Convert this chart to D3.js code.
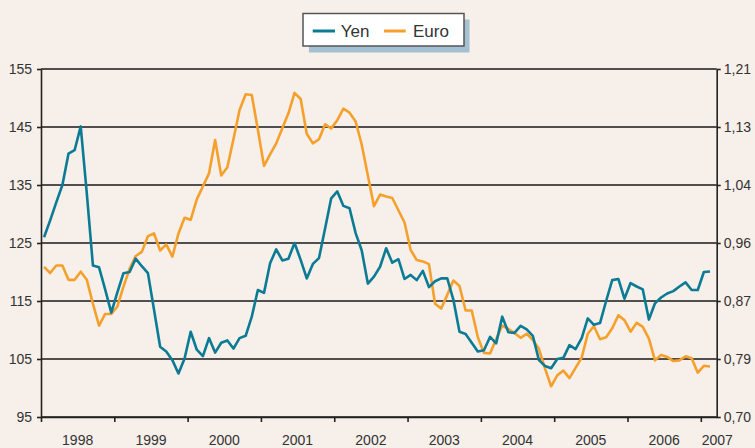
<!DOCTYPE html>
<html><head><meta charset="utf-8">
<script src="https://cdn.jsdelivr.net/npm/d3@7"></script>
<style>
html,body{margin:0;padding:0;background:#f7efe9;}
svg{display:block;font-family:"Liberation Sans",Arial,sans-serif;}
</style></head><body>
<svg id="chart" width="755" height="448"></svg>
<script>
// Monthly values, Jan 1998 onward
const yen = [126.0,128.9,132.0,135.0,140.4,141.0,145.1,133.5,121.1,120.8,117.0,113.0,
116.5,119.8,120.0,122.3,121.0,119.8,113.5,107.1,106.3,104.8,102.5,105.1,
109.7,106.6,105.5,108.6,106.1,107.8,108.2,106.8,108.6,109.0,112.3,116.9,
116.4,121.5,123.9,122.0,122.3,125.0,122.1,118.9,121.4,122.4,127.5,132.7,
133.9,131.4,131.0,126.7,123.7,118.0,119.2,120.9,124.1,121.6,122.2,118.8,
119.5,118.6,120.2,117.4,118.4,118.9,118.9,115.2,109.7,109.3,107.8,106.3,
106.5,108.8,107.7,112.3,109.6,109.5,110.7,110.1,109.0,104.8,103.8,103.4,
105.0,105.2,107.4,106.7,108.6,112.0,110.9,111.2,115.0,118.6,118.8,115.4,
118.1,117.5,117.0,111.8,114.6,115.6,116.3,116.7,117.5,118.2,116.9,116.9,
120.0,120.1];
const euro = [0.920,0.911,0.922,0.922,0.901,0.901,0.913,0.901,0.866,0.834,0.851,0.851,
0.862,0.891,0.917,0.936,0.942,0.965,0.969,0.944,0.953,0.935,0.969,0.992,
0.989,1.019,1.038,1.057,1.106,1.054,1.066,1.107,1.150,1.173,1.172,1.121,
1.068,1.085,1.101,1.123,1.145,1.175,1.166,1.115,1.101,1.107,1.129,1.123,
1.135,1.152,1.146,1.133,1.099,1.054,1.009,1.026,1.023,1.021,1.003,0.985,
0.945,0.930,0.928,0.924,0.866,0.859,0.879,0.900,0.892,0.856,0.856,0.817,
0.794,0.793,0.814,0.834,0.829,0.823,0.816,0.822,0.813,0.800,0.771,0.745,
0.761,0.768,0.757,0.772,0.787,0.822,0.833,0.814,0.817,0.830,0.849,0.842,
0.825,0.838,0.832,0.815,0.783,0.791,0.788,0.782,0.783,0.789,0.786,0.765,
0.775,0.774];
const years = ["1998","1999","2000","2001","2002","2003","2004","2005","2006","2007"];
const leftTicks = [95,105,115,125,135,145,155];
const rightTickLabels = ["0,70","0,79","0,87","0,96","1,04","1,13","1,21"];
const seriesNames = ["Yen","Euro"];
const colors = {Yen:"#0b7b95", Euro:"#f6a02c"};

const m = {left:41, right:716.7, top:69, bottom:417};
const svg = d3.select("#chart");
svg.append("rect").attr("width",755).attr("height",448).attr("fill","#f7efe9");

const x = d3.scaleLinear().domain([-0.5, 110.1]).range([m.left, m.right]);
const yL = d3.scaleLinear().domain([95,155]).range([m.bottom, m.top]);
const yR = d3.scaleLinear().domain([0.70,1.21]).range([m.bottom, m.top]);

// gridlines
svg.append("g").selectAll("line").data(leftTicks).join("line")
  .attr("x1", m.left).attr("x2", m.right)
  .attr("y1", d=>yL(d)).attr("y2", d=>yL(d))
  .attr("stroke", "#1a1a1a").attr("stroke-width", 1.4);

// axes
const axL = svg.append("g").attr("transform",`translate(${m.left},0)`)
  .call(d3.axisLeft(yL).tickValues(leftTicks).tickSize(4).tickSizeOuter(0).tickPadding(5));
const axR = svg.append("g").attr("transform",`translate(${m.right},0)`)
  .call(d3.axisRight(yR).tickValues(leftTicks.map(t=>yR.invert(yL(t))))
    .tickFormat((d,i)=>rightTickLabels[i]).tickSize(4).tickSizeOuter(0).tickPadding(3));
const axB = svg.append("g").attr("transform",`translate(0,${m.bottom})`)
  .call(d3.axisBottom(x).tickValues(years.map((y,i)=>12*i-0.5)).tickFormat("").tickSize(5).tickSizeOuter(0));
[axL,axR,axB].forEach(g=>{
  g.select(".domain").attr("stroke","#222").attr("stroke-width",1.6);
  g.selectAll(".tick line").attr("stroke","#222").attr("stroke-width",1.6);
  g.selectAll(".tick text").attr("fill","#333").attr("font-size",14)
    .attr("font-family","'Liberation Sans',Arial,sans-serif");
});

// year labels
svg.append("g").selectAll("text").data(years).join("text")
  .attr("x",(d,i)=> i<9 ? x(12*i+5.5) : x(12*i+2.2))
  .attr("y",445).attr("text-anchor","middle")
  .attr("font-size",14).attr("fill","#333").text(d=>d);

// lines
const lineE = d3.line().x((d,i)=>x(i)).y(d=>yR(d));
const lineY = d3.line().x((d,i)=>x(i)).y(d=>yL(d));
svg.append("path").datum(euro).attr("d",lineE).attr("fill","none")
  .attr("stroke",colors.Euro).attr("stroke-width",2.6).attr("stroke-linejoin","round");
svg.append("path").datum(yen).attr("d",lineY).attr("fill","none")
  .attr("stroke",colors.Yen).attr("stroke-width",2.6).attr("stroke-linejoin","round");

// legend
const lg = svg.append("g");
lg.append("rect").attr("x",309).attr("y",19.5).attr("width",160.5).attr("height",33).attr("fill","#a3c1d2");
lg.append("rect").attr("x",303).attr("y",13.5).attr("width",161).attr("height",32.5)
  .attr("fill","#ffffff").attr("stroke","#555").attr("stroke-width",1.5);
const legX = {Yen:[312.7,335,340.7], Euro:[384,405.7,413]};
seriesNames.forEach(n=>{
  lg.append("line").attr("x1",legX[n][0]).attr("x2",legX[n][1]).attr("y1",31).attr("y2",31)
    .attr("stroke",colors[n]).attr("stroke-width",3);
  lg.append("text").attr("x",legX[n][2]).attr("y",37).attr("font-size",17).attr("fill","#333").text(n);
});
</script>
</body></html>
